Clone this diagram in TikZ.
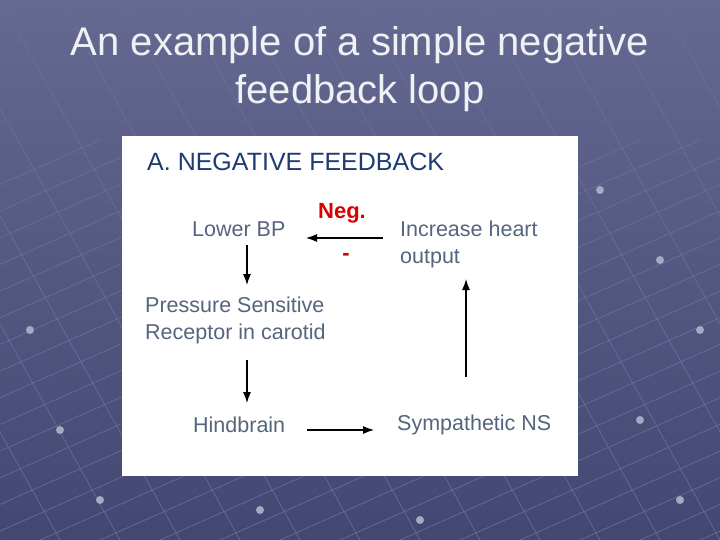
\documentclass[tikz,border=0pt]{standalone}
\usepackage{fontspec}
\setmainfont{Liberation Sans}
\usetikzlibrary{arrows.meta}
\begin{document}
\begin{tikzpicture}[x=1pt,y=-1pt,
  lbl/.style={text=lbc,font=\fontsize{21.5}{27}\selectfont,inner sep=0pt,anchor=west},
  arr/.style={-{Latex[length=11pt,width=8pt]},line width=1.2pt,black}]
\definecolor{bg}{HTML}{4A4F7E}
\definecolor{lbc}{HTML}{55657E}
\definecolor{ttl}{HTML}{1E3C72}
\definecolor{gl}{HTML}{6B6F9C}
\useasboundingbox (0,0) rectangle (720,540);
\shade[top color=bg!85!white,bottom color=bg!90!black] (0,0) rectangle (720,540);
\begin{scope}
\clip (0,0) rectangle (720,540);
\foreach \i in {-10,...,20} {
  \draw[gl,line width=0.6pt] (\i*60,0) -- ++(300,540);
  \draw[gl,line width=0.6pt] (\i*60-200,540) -- ++(900,-400);
}
\foreach \p in {(600,190),(660,260),(700,330),(560,470),(640,420),(30,330),(60,430),(100,500),(260,510),(420,520),(680,500)}
  \fill[gl!60!white] \p circle (4);
\end{scope}
\node[text=white!92!bg,font=\fontsize{40}{48}\selectfont,align=center] (t) at (360,69) {An example of a simple negative\\feedback loop};
\fill[white] (122,136) rectangle (578,476);
\node[text=ttl,font=\fontsize{25}{30}\selectfont,anchor=west,inner sep=0pt] (h) at (147,162) {A. NEGATIVE FEEDBACK};
\node[text=red!85!black,font=\bfseries\fontsize{22}{26}\selectfont,inner sep=0pt] (neg) at (342,213) {Neg.};
\node[text=red!85!black,font=\bfseries\fontsize{22}{26}\selectfont,inner sep=0pt] (m) at (346,257) {-};
\node[lbl] (bp) at (192,229) {Lower BP};
\node[lbl,align=left] (ih) at (400,244) {Increase heart\\output};
\node[lbl,align=left] (ps) at (145,320) {Pressure Sensitive\\Receptor in carotid};
\node[lbl] (hb) at (193,425) {Hindbrain};
\node[lbl] (sn) at (397,425) {Sympathetic NS};
\coordinate (a1) at (383,238); \coordinate (a2) at (306,238);
\coordinate (b1) at (247,245); \coordinate (b2) at (247,285);
\coordinate (c1) at (247,360); \coordinate (c2) at (247,403);
\coordinate (d1) at (307,430); \coordinate (d2) at (374,430);
\coordinate (e1) at (466,377); \coordinate (e2) at (466,279);
\draw[arr] (a1) -- (a2);
\draw[arr] (b1) -- (b2);
\draw[arr] (c1) -- (c2);
\draw[arr] (d1) -- (d2);
\draw[arr] (e1) -- (e2);
\end{tikzpicture}
\end{document}
